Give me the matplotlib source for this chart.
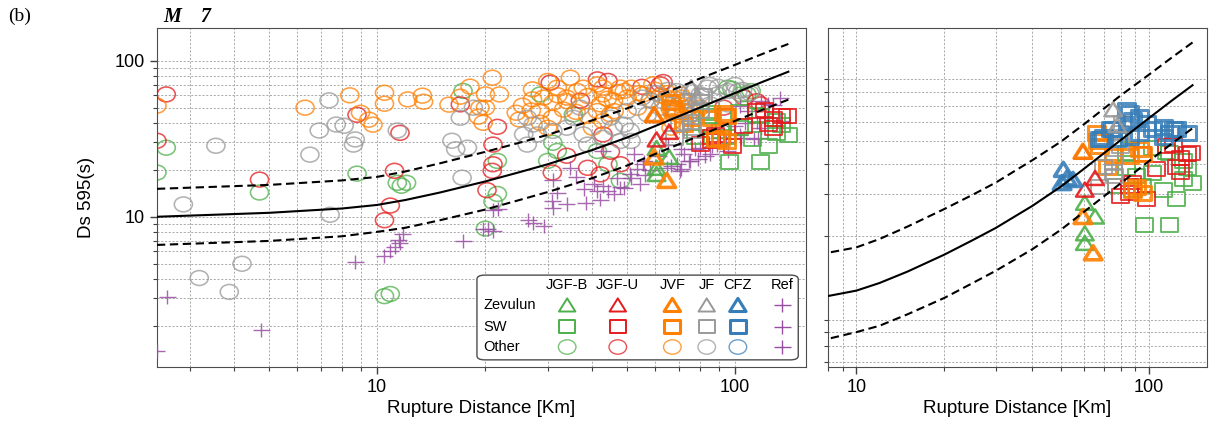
import numpy as np
import matplotlib
matplotlib.use("Agg")
import matplotlib.pyplot as plt
from matplotlib.path import Path
from matplotlib.patches import FancyBboxPatch
from matplotlib.ticker import FixedLocator, LogLocator, NullFormatter, NullLocator

plt.rcParams["font.family"] = ["Liberation Sans", "DejaVu Sans"]

# ---- model curve (median, +/- one sigma) ----
curve_R = [2.43, 5, 8, 10, 12, 15, 20, 25, 30, 40, 50, 60, 80, 100, 120, 141]
curve_med = [10.0, 10.6, 11.3, 11.9, 12.8, 14.3, 16.8, 19.3, 21.7, 26.8, 32.2, 38.2, 50.2, 62, 73.5, 85]
curve_hi = [15.1, 16.0, 17.1, 18.0, 19.5, 22.0, 26.0, 29.8, 33.5, 41.5, 49.5, 58.5, 77, 94, 111, 128]
curve_lo = [6.6, 7.0, 7.5, 8.0, 8.5, 9.5, 11.1, 12.8, 14.4, 17.7, 21.3, 25.3, 33.2, 41.1, 48.7, 56.3]

# ---- "Other" stations (circles), (R [km], Ds595 [s]) ----
other_jgfb = [(2.58, 27.7), (2.43, 19.2), (4.7, 14.3), (8.8, 18.9), (11.4, 16.5), (11.7, 15.8),
              (10.5, 3.1), (10.9, 3.2), (17.4, 64), (21.7, 22.8), (21.7, 14), (12.1, 16.5),
              (20.1, 8.4), (21.1, 12.5), (28.6, 60.8), (31, 29.8), (31.9, 26.4), (30, 22.8),
              (41.3, 26.4), (35.4, 45.3), (95.5, 67.2), (104, 60.8), (111, 63.9), (44.2, 21.7),
              (47.9, 17), (98, 66), (108, 61)]
other_jgfu = [(2.58, 60.8), (2.43, 30.7), (8.8, 45), (11.6, 34.5), (4.7, 17.3), (11.2, 19.7),
              (10.9, 11.8), (10.5, 9.5), (17.1, 52.5), (21.7, 37.7), (21.1, 29), (21.1, 21.7),
              (21, 19.7), (20.3, 14.8), (30.5, 72.3), (41.3, 75.9), (37, 55.5), (33.9, 24.6),
              (42.1, 18.7), (30.9, 19.2), (38.8, 20.6), (44.2, 74.2), (61.9, 70.5), (42.8, 33.7),
              (47.9, 21.7), (106, 58), (118, 52.5), (44.9, 26.1), (63, 73), (55, 68), (115, 55),
              (93, 50)]
other_jvf = [(2.43, 51.5), (6.3, 50), (8.4, 60), (10.5, 62.3), (10.5, 53), (12.2, 56.5), (9.0, 46.4),
             (9.5, 41.9), (9.75, 38.9), (13.4, 59.7), (13.5, 54.6), (15.9, 52.3), (18.2, 68.2),
             (17.1, 58.8), (21, 77.8), (20.1, 60.8), (22, 60.8), (19.4, 50), (20.1, 50), (19.2, 43.8),
             (19.8, 40), (27.2, 65.5), (30, 74.2), (34.7, 77.8), (31.9, 67.2), (27.2, 56.5), (29.2, 58),
             (31, 53.8), (33.9, 58), (36.3, 63.9), (38.8, 59.4), (41.3, 70.5), (42.8, 60.8), (24.5, 46.4),
             (25.5, 51.5), (28.6, 47.6), (28.6, 40), (30, 37.2), (30.9, 43.1), (33.2, 48.6), (38.8, 44.3),
             (41.3, 47.6), (40, 37.2), (42.1, 52.5), (42.8, 41), (42.8, 67.2), (47.9, 67.2), (51.3, 67.2),
             (45.8, 55.5), (50, 58), (55.3, 60.8), (64.5, 58), (67.3, 53.8), (69, 45.3), (67, 41),
             (72, 47.6), (73.8, 43.1), (66.3, 37.2), (70.4, 60.8), (44.9, 45.3), (53.4, 50), (80, 50),
             (59, 70.5), (37.7, 67.2), (49.1, 64), (46, 47.5), (60, 65), (62, 60), (65, 62), (68, 57),
             (70, 52), (66, 49), (72, 55), (74, 50), (76, 48), (71, 58), (58, 56), (54, 62), (47, 63),
             (44, 57), (36, 47), (34, 55), (32, 60), (27, 48), (25, 42)]
other_jf = [(3.55, 28.5), (7.35, 55.7), (6.9, 35.7), (7.7, 39), (8.1, 38.3), (8.7, 31.3), (8.6, 29),
            (6.5, 25), (11.4, 35.7), (2.88, 12), (7.4, 10.3), (3.19, 4.05), (4.2, 5.0), (3.87, 3.3),
            (17.1, 43.1), (16.2, 30.7), (16.6, 27.1), (17.9, 27.7), (18.6, 50), (17.3, 17.8),
            (26.3, 43.1), (27.3, 39), (25.7, 33.7), (28.1, 33.7), (31, 35.5), (33.9, 37.2), (35.4, 43.1),
            (37, 50), (37.7, 33.7), (38.8, 29), (42.8, 32), (26.3, 29), (50, 47.6), (45.8, 37.2),
            (51, 35.5), (57, 45.3), (58, 55.5), (61.9, 50), (75, 63.9), (80, 60.8), (83.8, 67.2),
            (89.4, 60.8), (95.5, 63.9), (102, 63.9), (85.3, 52.5), (76.7, 52.5), (69, 63.9), (73.8, 55.5),
            (95.5, 52.5), (47.9, 30.6), (51.3, 30.6), (44.9, 43.1), (49.1, 38.9), (85, 70), (90, 68),
            (100, 70), (105, 65), (110, 62), (65, 65), (60, 62), (55, 58), (63, 55), (68, 48), (75, 45),
            (80, 47), (72, 40)]

# ---- reference stations (crosses) ----
ref_pts = [(2.6, 3.05), (4.75, 1.87), (2.43, 1.38), (8.7, 5.1), (10.5, 5.6), (10.9, 6.0), (11.2, 6.4),
           (11.6, 6.8), (11.5, 7.1), (11.8, 7.7), (17.4, 7.0), (19.8, 8.3), (20.4, 8.3), (21.1, 8.1),
           (21.1, 11.0), (21.8, 11.2), (26.5, 9.6), (27.3, 9.1), (29.2, 8.7), (30.9, 12.7), (31, 11.4),
           (33.9, 12.0), (38.3, 12.3), (42.1, 12.9), (31, 17.3), (34.7, 20.6), (42.8, 26.4), (40.3, 16.2),
           (41.3, 14.7), (31.9, 14.3), (42.8, 15.8), (46.9, 17.6), (51, 18.9), (53.4, 20.2), (49.1, 15.2),
           (52.4, 25.4), (55.8, 22.6), (61.2, 24.6), (66.5, 21.3), (70.9, 20.2), (74.2, 22.6), (78.9, 23.5),
           (82.6, 24.6), (86.5, 28.2), (77.6, 27.3), (70.9, 27.3), (65, 29), (94.3, 30.3), (103, 33.6),
           (113, 31.6), (115, 40.7), (123, 43.1), (128, 52.3), (134, 58), (118, 55.5), (103, 51.5),
           (116, 32), (118, 37.2), (134, 41), (124, 52.5), (109, 47.6), (104, 32), (95.5, 26.4),
           (85.3, 25.2), (75, 22.8), (69, 21.7), (64.5, 20.6), (55.3, 21.7), (51.3, 17.8), (47.9, 15.4),
           (44.2, 14.7), (54.4, 16.2), (80, 27.7), (72, 25.2), (89.4, 29), (70.4, 19.7), (38, 15),
           (36, 18), (46, 14), (56, 18.5), (58, 20), (90, 32), (97, 34), (100, 38), (107, 40)]

# ---- SW stations (squares) ----
sw_jgfb = [(86, 46), (103, 46.7), (115, 45), (131, 41), (135, 38.6), (141, 33.4), (124, 28.5),
           (112, 31.3), (103, 36.8), (91, 35.5), (77.6, 32.3), (95, 32.3), (88, 31.3), (96.6, 22.4),
           (118, 22.4), (84, 38.6), (131, 34.5), (84, 44.5), (118, 44.5)]
sw_jgfu = [(121, 48), (95, 44), (128, 42.4), (135, 44), (124, 39), (128, 37), (106, 38), (86, 32.3),
           (80, 29.4), (98.5, 28.5), (86, 30.4), (140, 44.5), (115, 47.5), (88, 33.5)]
sw_jvf = [(66, 54), (67, 50), (68, 47.5), (72, 39), (75.5, 43), (86, 43), (95, 44), (93, 46),
          (91, 32), (95, 30.4), (88, 31.3)]
sw_jf = [(70, 39), (75.5, 37), (68, 32), (76, 35.5), (80, 54), (81.5, 59), (80, 47.5), (75.5, 40.5)]
sw_cfz = [(86, 65), (93, 63), (98, 59), (84, 67), (88, 61), (75, 56), (70, 52), (69, 51), (78, 51),
          (86, 52), (93, 54), (103, 56), (112, 57), (118, 54), (124, 56), (135, 54), (112, 52),
          (74, 56), (68, 51), (121, 56)]

# ---- Zevulun stations (triangles) ----
zev_jgfb = [(60.4, 27.6), (65.5, 24.2), (60.4, 20.6), (60.4, 18.8)]
zev_jgfu = [(59.5, 45), (65.5, 35), (60.4, 31.3)]
zev_jvf = [(59.5, 45.2), (59.5, 24.2), (64.5, 17.1)]
zev_jf = [(75.5, 67.5), (78, 58)]
zev_cfz = [(51, 38), (52.5, 35), (55, 34.5), (50.5, 33.5)]

groups = ["JGF-B", "JGF-U", "JVF", "JF", "CFZ"]
colors = {"JGF-B": "#4daf4a", "JGF-U": "#e41a1c", "JVF": "#ff7f00",
          "JF": "#999999", "CFZ": "#377eb8", "Ref": "#984ea3"}
thick = {"JGF-B": 1.4, "JGF-U": 1.4, "JVF": 2.2, "JF": 1.4, "CFZ": 2.2}
other = {"JGF-B": other_jgfb, "JGF-U": other_jgfu, "JVF": other_jvf, "JF": other_jf, "CFZ": []}
sw = {"JGF-B": sw_jgfb, "JGF-U": sw_jgfu, "JVF": sw_jvf, "JF": sw_jf, "CFZ": sw_cfz}
zev = {"JGF-B": zev_jgfb, "JGF-U": zev_jgfu, "JVF": zev_jvf, "JF": zev_jf, "CFZ": zev_cfz}

# markers, slightly flattened like in the original
K = 0.82
circ_m = Path(Path.unit_circle().vertices * [1, K], Path.unit_circle().codes)
sq_m = Path([(-1, -K), (1, -K), (1, K), (-1, K), (-1, -K)],
            [Path.MOVETO, Path.LINETO, Path.LINETO, Path.LINETO, Path.CLOSEPOLY])
tri_m = Path([(0, 0.8), (-1, -0.8), (1, -0.8), (0, 0.8)],
             [Path.MOVETO, Path.LINETO, Path.LINETO, Path.CLOSEPOLY])
plus_m = Path([(-1, 0), (1, 0), (0, -K), (0, K)],
              [Path.MOVETO, Path.LINETO, Path.MOVETO, Path.LINETO])


def pts(lst):
    a = np.array(lst, dtype=float).reshape(-1, 2)
    return a[:, 0], a[:, 1]


def draw_curves(ax):
    ax.plot(curve_R, curve_med, color="k", lw=1.5, zorder=6)
    ax.plot(curve_R, curve_hi, color="k", lw=1.5, ls=(0, (4, 2.2)), zorder=6)
    ax.plot(curve_R, curve_lo, color="k", lw=1.5, ls=(0, (4, 2.2)), zorder=6)


def style_axes(ax):
    ax.set_xscale("log")
    ax.set_yscale("log")
    ax.set_axisbelow(True)
    ax.grid(True, which="both", color="0.62", ls=(0, (2.5, 2)), lw=0.6)
    ax.xaxis.set_major_locator(FixedLocator([10, 100]))
    ax.xaxis.set_minor_locator(LogLocator(subs=np.arange(2, 10)))
    ax.xaxis.set_minor_formatter(NullFormatter())
    ax.set_xticklabels(["10", "100"])
    ax.tick_params(which="major", direction="out", length=5, width=1, color="0.25", labelsize=13)
    ax.tick_params(which="minor", direction="out", length=3, width=0.8, color="0.25")
    for s in ax.spines.values():
        s.set_color("0.3")
    ax.set_xlabel("Rupture Distance [Km]", fontsize=13.5, labelpad=3)


fig = plt.figure(figsize=(12.11, 4.21), dpi=100)
ax1 = fig.add_axes([0.1296, 0.1283, 0.5360, 0.8052])
ax2 = fig.add_axes([0.6837, 0.1283, 0.3130, 0.8052])

# left panel: all station types except CFZ
for g in groups:
    if other[g]:
        x, y = pts(other[g])
        ax1.scatter(x, y, marker=circ_m, s=170, facecolors="none", edgecolors=colors[g],
                    linewidths=1.15, alpha=0.75, zorder=2)
x, y = pts(ref_pts)
ax1.scatter(x, y, marker=plus_m, s=150, facecolors="none", edgecolors=colors["Ref"],
            linewidths=1.0, alpha=0.85, zorder=3)
for g in groups[:4]:
    x, y = pts(sw[g])
    ax1.scatter(x, y, marker=sq_m, s=150, facecolors="none", edgecolors=colors[g],
                linewidths=thick[g], alpha=0.85, zorder=4)
for g in groups[:4]:
    x, y = pts(zev[g])
    ax1.scatter(x, y, marker=tri_m, s=160, facecolors="none", edgecolors=colors[g],
                linewidths=thick[g] + 0.4, alpha=0.9, zorder=5)
draw_curves(ax1)
style_axes(ax1)
ax1.set_xlim(2.43, 158)
ax1.set_ylim(1.09, 162)
ax1.yaxis.set_major_locator(FixedLocator([10, 100]))
ax1.yaxis.set_minor_locator(LogLocator(subs=np.arange(2, 10)))
ax1.yaxis.set_minor_formatter(NullFormatter())
ax1.set_yticklabels(["10", "100"])
ax1.set_ylabel("Ds 595(s)", fontsize=13.5, labelpad=14)

# right panel: SW and Zevulun only
for g in groups:
    x, y = pts(sw[g])
    ax2.scatter(x, y, marker=sq_m, s=150, facecolors="none", edgecolors=colors[g],
                linewidths=thick[g], alpha=0.85, zorder=4)
for g in groups:
    x, y = pts(zev[g])
    ax2.scatter(x, y, marker=tri_m, s=160, facecolors="none", edgecolors=colors[g],
                linewidths=thick[g] + 0.4, alpha=0.9, zorder=5)
draw_curves(ax2)
style_axes(ax2)
ax2.set_xlim(8, 158)
ax2.set_ylim(5.73, 147)
ax2.yaxis.set_major_locator(NullLocator())
ax2.yaxis.set_minor_locator(FixedLocator([6, 7, 8, 9, 20, 30, 40, 50, 60, 70, 80, 90]))
ax2.yaxis.set_minor_formatter(NullFormatter())

# table-style legend in the left panel
box = FancyBboxPatch((0.493, 0.021), 0.495, 0.25, boxstyle="round,pad=0,rounding_size=0.012",
                     transform=ax1.transAxes, fc="white", ec="0.3", lw=1.0, zorder=10)
ax1.add_patch(box)
col_x = [0.632, 0.710, 0.794, 0.847, 0.895, 0.963]
row_y = [0.183, 0.118, 0.059]
for label, yy in zip(["Zevulun", "SW", "Other"], row_y):
    ax1.text(0.503, yy, label, transform=ax1.transAxes, fontsize=10.5, ha="left", va="center", zorder=11)
for g, xx in zip(groups + ["Ref"], col_x):
    ax1.text(xx, 0.242, g, transform=ax1.transAxes, fontsize=10.5, ha="center", va="center", zorder=11)
    if g == "Ref":
        for yy in row_y:
            ax1.scatter([xx], [yy], transform=ax1.transAxes, marker=plus_m, s=150,
                        facecolors="none", edgecolors=colors[g], linewidths=1.0, zorder=11, clip_on=False)
        continue
    ax1.scatter([xx], [row_y[0]], transform=ax1.transAxes, marker=tri_m, s=140, facecolors="none",
                edgecolors=colors[g], linewidths=thick[g], zorder=11, clip_on=False)
    ax1.scatter([xx], [row_y[1]], transform=ax1.transAxes, marker=sq_m, s=130, facecolors="none",
                edgecolors=colors[g], linewidths=thick[g], zorder=11, clip_on=False)
    ax1.scatter([xx], [row_y[2]], transform=ax1.transAxes, marker=circ_m, s=160, facecolors="none",
                edgecolors=colors[g], linewidths=1.0, alpha=0.75, zorder=11, clip_on=False)

ax1.text(0.01, 1.004, "M    7", transform=ax1.transAxes, fontsize=14.5, fontweight="bold",
         fontstyle="italic", family=["Liberation Serif", "DejaVu Serif"], ha="left", va="bottom")
fig.text(8 / 1211, 1 - 8 / 421, "(b)", fontsize=14, family=["Liberation Serif", "DejaVu Serif"],
         ha="left", va="top")

fig.savefig("out.png", dpi=100)
